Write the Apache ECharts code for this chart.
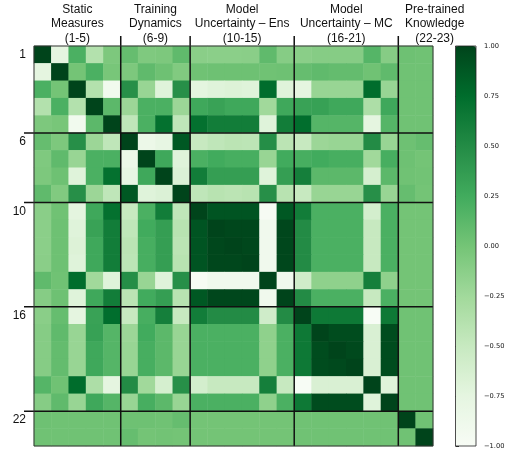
<!DOCTYPE html>
<html><head><meta charset="utf-8">
<script src="https://cdn.jsdelivr.net/npm/echarts@6/dist/echarts.min.js"></script>
<style>html,body{margin:0;padding:0;background:#fff}#c{width:513px;height:452px}</style>
</head><body><div id="c"></div>
<script>
// ---- data ----
const features = ['1','2','3','4','5','6','7','8','9','10','11','12','13','14','15','16','17','18','19','20','21','22','23'];
const rowTickLabels = ['1','6','10','16','22'];
const groupNames = ['Static\nMeasures\n(1-5)', 'Training\nDynamics\n(6-9)', 'Model\nUncertainty \u2013 Ens\n(10-15)', 'Model\nUncertainty \u2013 MC\n(16-21)', 'Pre-trained\nKnowledge\n(22-23)'];
const groupStart = [0, 5, 9, 15, 21];
const groupEnd = [4, 8, 14, 20, 22];
const greens = ['#f7fcf5','#e5f5e0','#c7e9c0','#a1d99b','#74c476','#41ab5d','#238b45','#006d2c','#00441b'];

const row01 = [1, -0.75, 0.2, -0.37, -0.05, 0.07, -0.06, -0.05, 0.1, -0.12, -0.13, -0.13, -0.12, 0.1, -0.1, -0.12, -0.1, -0.1, -0.1, 0.15, -0.1, 0.03, 0.02];
const row02 = [-0.75, 1, 0, 0.2, -0.02, -0.05, 0.1, 0.03, -0.07, 0.02, 0.03, 0.03, 0.03, 0.02, 0.03, 0.07, 0.1, 0.08, 0.08, 0.02, 0.1, 0.02, 0.02];
const row03 = [0.2, 0, 1, -0.37, -0.92, 0.47, -0.2, -0.7, 0.47, -0.74, -0.7, -0.68, -0.7, 0.75, -0.7, -0.75, -0.2, -0.2, -0.2, 0.75, -0.2, 0.02, 0.02];
const row04 = [-0.37, 0.2, -0.37, 1, 0.12, -0.22, 0.2, 0.2, -0.22, 0.27, 0.32, 0.27, 0.27, -0.25, 0.27, 0.32, 0.33, 0.27, 0.27, -0.33, 0.27, 0.02, 0.02];
const row05 = [-0.05, -0.02, -0.92, 0.12, 1, -0.45, 0.2, 0.72, -0.45, 0.72, 0.62, 0.62, 0.62, -0.7, 0.62, 0.74, 0.15, 0.15, 0.15, -0.75, 0.15, 0.02, 0.02];
const row06 = [0.07, -0.05, 0.47, -0.22, -0.45, 1, -0.85, -0.78, 0.88, -0.5, -0.45, -0.42, -0.43, 0.48, -0.42, -0.5, -0.22, -0.2, -0.2, 0.5, -0.2, 0.03, 0.07];
const row07 = [-0.06, 0.1, -0.2, 0.2, 0.2, -0.85, 1, 0.27, -0.7, 0.2, 0.25, 0.22, 0.22, -0.2, 0.25, 0.22, 0.25, 0.22, 0.22, -0.25, 0.22, 0.03, 0.0];
const row08 = [-0.05, 0.03, -0.7, 0.2, 0.72, -0.78, 0.27, 1, -0.67, 0.62, 0.35, 0.35, 0.35, -0.7, 0.35, 0.6, 0.12, 0.12, 0.12, -0.62, 0.12, 0.02, 0.01];
const row09 = [0.1, -0.07, 0.47, -0.22, -0.45, 0.88, -0.7, -0.67, 1, -0.45, -0.4, -0.42, -0.4, 0.47, -0.4, -0.5, -0.2, -0.2, -0.2, 0.47, -0.2, 0.07, 0.0];
const row10 = [-0.12, 0.02, -0.74, 0.27, 0.72, -0.5, 0.2, 0.62, -0.45, 1, 0.9, 0.9, 0.9, -0.98, 0.88, 0.62, 0.2, 0.2, 0.2, -0.6, 0.2, 0.0, 0.0];
const row11 = [-0.13, 0.03, -0.7, 0.32, 0.62, -0.45, 0.25, 0.35, -0.4, 0.9, 1, 0.98, 0.98, -0.9, 0.98, 0.5, 0.2, 0.2, 0.2, -0.5, 0.2, 0.0, 0.0];
const row12 = [-0.13, 0.03, -0.68, 0.27, 0.62, -0.42, 0.22, 0.35, -0.42, 0.9, 0.98, 1, 0.98, -0.9, 0.98, 0.5, 0.2, 0.2, 0.2, -0.5, 0.2, 0.0, 0.0];
const row13 = [-0.12, 0.03, -0.7, 0.27, 0.62, -0.43, 0.22, 0.35, -0.4, 0.9, 0.98, 0.98, 1, -0.9, 0.98, 0.5, 0.2, 0.2, 0.2, -0.5, 0.2, 0.0, 0.0];
const row14 = [0.1, 0.02, 0.75, -0.25, -0.7, 0.48, -0.2, -0.7, 0.47, -0.98, -0.9, -0.9, -0.9, 1, -0.9, -0.57, -0.15, -0.15, -0.15, 0.6, -0.15, 0.0, 0.0];
const row15 = [-0.1, 0.03, -0.7, 0.27, 0.62, -0.42, 0.25, 0.35, -0.4, 0.88, 0.98, 0.98, 0.98, -0.9, 1, 0.5, 0.2, 0.2, 0.2, -0.5, 0.2, 0.0, 0.0];
const row16 = [-0.12, 0.07, -0.75, 0.32, 0.74, -0.5, 0.22, 0.6, -0.5, 0.62, 0.5, 0.5, 0.5, -0.57, 0.5, 1, 0.65, 0.65, 0.65, -1.0, 0.65, 0.02, 0.02];
const row17 = [-0.1, 0.1, -0.2, 0.33, 0.15, -0.22, 0.25, 0.12, -0.2, 0.2, 0.2, 0.2, 0.2, -0.15, 0.2, 0.65, 1, 0.95, 0.95, -0.65, 0.95, 0.02, 0.02];
const row18 = [-0.1, 0.08, -0.2, 0.27, 0.15, -0.2, 0.22, 0.12, -0.2, 0.2, 0.2, 0.2, 0.2, -0.15, 0.2, 0.65, 0.95, 1, 0.97, -0.65, 0.95, 0.02, 0.02];
const row19 = [-0.1, 0.08, -0.2, 0.27, 0.15, -0.2, 0.22, 0.12, -0.2, 0.2, 0.2, 0.2, 0.2, -0.15, 0.2, 0.65, 0.95, 0.97, 1, -0.65, 0.95, 0.02, 0.02];
const row20 = [0.15, 0.02, 0.75, -0.33, -0.75, 0.5, -0.25, -0.62, 0.47, -0.6, -0.5, -0.5, -0.5, 0.6, -0.5, -1.0, -0.65, -0.65, -0.65, 1, -0.7, 0.02, 0.02];
const row21 = [-0.1, 0.1, -0.2, 0.27, 0.15, -0.2, 0.22, 0.12, -0.2, 0.2, 0.2, 0.2, 0.2, -0.15, 0.2, 0.65, 0.95, 0.95, 0.95, -0.7, 1, 0.02, 0.02];
const row22 = [0.03, 0.02, 0.02, 0.02, 0.02, 0.03, 0.03, 0.02, 0.07, 0.0, 0.0, 0.0, 0.0, 0.0, 0.0, 0.02, 0.02, 0.02, 0.02, 0.02, 0.02, 1, 0.02];
const row23 = [0.02, 0.02, 0.02, 0.02, 0.02, 0.07, 0.0, 0.01, 0.0, 0.0, 0.0, 0.0, 0.0, 0.0, 0.0, 0.02, 0.02, 0.02, 0.02, 0.02, 0.02, 0.02, 1];
const corrRows = [row01,row02,row03,row04,row05,row06,row07,row08,row09,row10,row11,row12,row13,row14,row15,row16,row17,row18,row19,row20,row21,row22,row23];

// ---- chart ----
const heatData = [];
corrRows.forEach((row, r) => row.forEach((v, c) => heatData.push([c, r, v])));
const labelIdx = rowTickLabels.map(l => features.indexOf(l));
const fmt = v => (v < 0 ? '\u2212' : '') + Math.abs(v).toFixed(2);

const cbLeft = 455.5, cbTop = 46, cbWidth = 20.5, cbHeight = 400;

const chart = echarts.init(document.getElementById('c'), null, {renderer: 'canvas'});
chart.setOption({
  animation: false,
  backgroundColor: '#ffffff',
  grid: [
    {left: 34, top: 46, width: 399, height: 400},
    {left: cbLeft, top: cbTop, width: cbWidth, height: cbHeight}
  ],
  xAxis: [
    {type: 'category', data: features, gridIndex: 0, show: false},
    {type: 'value', gridIndex: 1, show: false, min: 0, max: 1}
  ],
  yAxis: [
    {type: 'category', data: features, inverse: true, gridIndex: 0,
     axisLine: {show: false}, axisTick: {show: false}, splitLine: {show: false},
     axisLabel: {interval: (i) => labelIdx.includes(i), fontSize: 12, color: '#111',
                 margin: 8, fontFamily: 'Liberation Sans'}},
    {type: 'value', gridIndex: 1, position: 'right', min: -1, max: 1, interval: 0.25,
     axisLine: {show: false}, splitLine: {show: false},
     axisTick: {show: true, length: 3.5, lineStyle: {color: '#000', width: 0.8}},
     axisLabel: {fontSize: 6.7, margin: 8, color: '#111', fontFamily: 'DejaVu Sans', formatter: fmt}}
  ],
  visualMap: {
    type: 'continuous', min: -1, max: 1, seriesIndex: 0, orient: 'vertical',
    left: cbLeft, top: cbTop, itemWidth: cbWidth, itemHeight: cbHeight, padding: 0,
    calculable: false, inRange: {color: greens}
  },
  series: [{
    type: 'heatmap', data: heatData, xAxisIndex: 0, yAxisIndex: 0,
    emphasis: {disabled: true}, itemStyle: {borderWidth: 0}
  }]
});

// separators and group labels, placed from the axis scale
const p0 = chart.convertToPixel({gridIndex: 0}, [0, 0]);
const p1 = chart.convertToPixel({gridIndex: 0}, [1, 1]);
const cw = p1[0] - p0[0], ch = p1[1] - p0[1];
const L = p0[0] - cw / 2, T = p0[1] - ch / 2;
const R = L + cw * features.length, B = T + ch * features.length;
const graphics = [];
const lineStyle = {stroke: '#111', lineWidth: 1.5};
groupStart.slice(1).forEach(k => {
  const x = L + k * cw, y = T + k * ch;
  graphics.push({type: 'line', z: 100, shape: {x1: x, y1: T - 10, x2: x, y2: B}, style: lineStyle});
  graphics.push({type: 'line', z: 100, shape: {x1: L - 10, y1: y, x2: R, y2: y}, style: lineStyle});
});
graphics.push({type: 'rect', z: 100, shape: {x: L, y: T, width: R - L, height: B - T},
  style: {fill: 'none', stroke: '#333', lineWidth: 1}});
const labelShift = [0, 0, 0, 0, 19];
groupNames.forEach((name, g) => {
  const cx = L + (groupStart[g] + groupEnd[g] + 1) / 2 * cw + labelShift[g];
  graphics.push({type: 'text', z: 100, x: cx, y: T - 22,
    style: {text: name, fill: '#111', font: '12px "Liberation Sans"', lineHeight: 14.5,
            align: 'center', verticalAlign: 'middle'}});
});
// colorbar frame
const cTop = chart.convertToPixel({yAxisIndex: 1}, 1);
const cBot = chart.convertToPixel({yAxisIndex: 1}, -1);
graphics.push({type: 'rect', z: 100, shape: {x: cbLeft, y: cTop, width: cbWidth, height: cBot - cTop},
  style: {fill: 'none', stroke: '#222', lineWidth: 0.8}});
chart.setOption({graphic: graphics});
</script></body></html>
